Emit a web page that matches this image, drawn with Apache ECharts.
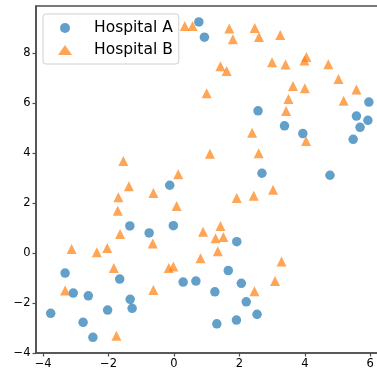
<!DOCTYPE html>
<html>
<head>
<meta charset="utf-8">
<script src="https://cdn.jsdelivr.net/npm/echarts@6/dist/echarts.min.js"></script>
<style>
  html, body { margin: 0; padding: 0; background: #fff; }
  #chart { width: 377px; height: 373px; }
</style>
</head>
<body>
<div id="chart"></div>
<script>
// points, [x, y]
const hospitalA = [
  [0.76, 9.26], [0.93, 8.65], [2.57, 5.70], [3.38, 5.10], [3.94, 4.79],
  [2.69, 3.20], [4.77, 3.12], [5.96, 6.05], [5.58, 5.49], [5.93, 5.32],
  [5.69, 5.04], [5.48, 4.56], [-0.13, 2.72], [-1.35, 1.09], [-0.76, 0.81],
  [-0.02, 1.10], [-3.33, -0.80], [-1.66, -1.04], [0.28, -1.16], [0.67, -1.12],
  [-3.08, -1.60], [-2.62, -1.71], [-1.34, -1.85], [-1.28, -2.21], [-2.03, -2.28],
  [-3.77, -2.41], [-2.78, -2.77], [-2.48, -3.37], [1.92, 0.46], [1.66, -0.70],
  [2.06, -1.21], [1.25, -1.55], [2.21, -1.95], [2.54, -2.45], [1.91, -2.68],
  [1.31, -2.83]
];
const hospitalB = [
  [0.33, 9.10], [0.57, 9.10], [1.69, 9.00], [1.80, 8.57], [2.47, 9.02],
  [2.60, 8.66], [1.42, 7.49], [1.61, 7.30], [1.00, 6.40], [3.25, 8.74],
  [3.00, 7.65], [3.41, 7.56], [3.99, 7.72], [4.05, 7.86], [4.72, 7.57],
  [5.03, 6.98], [5.58, 6.56], [5.19, 6.10], [3.64, 6.70], [4.00, 6.61],
  [3.50, 6.17], [3.43, 5.69], [2.39, 4.82], [4.04, 4.49], [1.10, 3.98],
  [2.59, 4.00], [3.03, 2.54], [1.92, 2.21], [2.44, 2.30], [0.89, 0.86],
  [1.42, 1.09], [1.27, 0.60], [1.51, 0.65], [1.34, 0.08], [0.81, -0.20],
  [3.29, -0.33], [3.09, -1.12], [2.46, -1.53], [0.13, 3.16], [-0.63, 2.41],
  [0.08, 1.89], [-1.55, 3.69], [-1.38, 2.68], [-1.70, 2.24], [-1.72, 1.70],
  [-1.65, 0.77], [-0.65, 0.39], [-3.13, 0.17], [-2.36, 0.04], [-2.04, 0.21],
  [-1.84, -0.60], [-0.16, -0.60], [-0.02, -0.54], [-3.33, -1.50], [-0.63, -1.48],
  [-1.76, -3.31]
];
const xTicks = [-4, -2, 0, 2, 4, 6];
const yTicks = [-4, -2, 0, 2, 4, 6, 8];

const spine = "#4d4d4d";
const font = "DejaVu Sans";
const minus = v => String(v).replace("-", "\u2212");

const chart = echarts.init(document.getElementById("chart"));
chart.setOption({
  animation: false,
  backgroundColor: "#fff",
  grid: {
    left: 36, top: 6, right: -20, bottom: 20,
    outerBoundsMode: "none",
    show: true, borderColor: spine, borderWidth: 1.5, backgroundColor: "transparent"
  },
  legend: {
    orient: "vertical",
    left: 43, top: 14,
    padding: [5, 6, 5, 15],
    itemGap: 4,
    itemWidth: 14, itemHeight: 10,
    backgroundColor: "rgba(255,255,255,0.8)",
    borderColor: "#d0d0d0", borderWidth: 1, borderRadius: 3,
    textStyle: { fontFamily: font, fontSize: 15.5, color: "#000", padding: [0, 0, 0, 17], lineHeight: 18 },
    data: ["Hospital A", "Hospital B"]
  },
  xAxis: {
    type: "value",
    min: -4.22, max: 6.82,
    splitLine: { show: false },
    axisLine: { show: true, onZero: false, lineStyle: { color: spine, width: 1.5 } },
    axisTick: { show: true, length: 3.5, customValues: xTicks, lineStyle: { color: spine, width: 1.2 } },
    axisLabel: { customValues: xTicks, margin: 5, fontFamily: font, fontSize: 11.5, color: "#000", formatter: minus }
  },
  yAxis: {
    type: "value",
    min: -4, max: 9.9,
    splitLine: { show: false },
    axisLine: { show: true, onZero: false, lineStyle: { color: spine, width: 1.5 } },
    axisTick: { show: true, length: 3.5, customValues: yTicks, lineStyle: { color: spine, width: 1.2 } },
    axisLabel: { customValues: yTicks, margin: 5.5, fontFamily: font, fontSize: 11.5, color: "#000", formatter: minus }
  },
  series: [
    {
      name: "Hospital A",
      type: "scatter",
      symbol: "circle",
      symbolSize: 9.5,
      data: hospitalA,
      itemStyle: { color: "#1f77b4", opacity: 0.7 }
    },
    {
      name: "Hospital B",
      type: "scatter",
      symbol: "triangle",
      symbolSize: 10,
      data: hospitalB,
      itemStyle: { color: "#ff7f0e", opacity: 0.7 }
    }
  ]
});
</script>
</body>
</html>
